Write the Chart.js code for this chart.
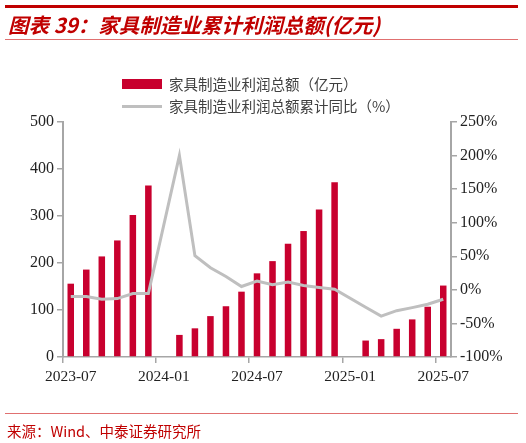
<!DOCTYPE html>
<html>
<head>
<meta charset="utf-8">
<script src="https://cdn.jsdelivr.net/npm/chart.js@4.4.1/dist/chart.umd.min.js"></script>
<style>
  html, body { margin: 0; padding: 0; background: #fff; }
  body { width: 526px; height: 443px; position: relative; overflow: hidden; font-family: "Noto Sans CJK SC", sans-serif; }
  #topline { position: absolute; left: 5px; top: 5px; width: 513px; height: 3px; background: #C00000; }
  #title { position: absolute; left: 8px; top: 10px; font-size: 20.5px; line-height: 28px; color: #C00000; font-style: italic; font-weight: bold; white-space: nowrap; }
  #titleline { position: absolute; left: 5px; top: 39px; width: 513px; height: 1px; background: #E07070; }
  #legend { position: absolute; left: 122px; top: 73px; font-size: 14.5px; color: #404040; }
  .item { position: relative; height: 22px; line-height: 22px; padding-left: 47px; white-space: nowrap; }
  .swatch-bar { position: absolute; left: 0; top: 6px; width: 40px; height: 10px; background: #C8002E; }
  .swatch-line { position: absolute; left: 0; top: 10px; width: 40px; height: 3px; background: #BFBFBF; }
  #footline { position: absolute; left: 5px; top: 413px; width: 513px; height: 1px; background: #E07070; }
  #source { position: absolute; left: 7px; top: 421px; font-size: 14.5px; line-height: 20px; color: #C00000; white-space: nowrap; }
  #wrap { position: absolute; left: 0; top: 0; width: 526px; height: 443px; }
</style>
</head>
<body>
<div id="wrap"><canvas id="c"></canvas></div>
<div id="topline"></div>
<div id="title">图表 39：家具制造业累计利润总额(亿元)</div>
<div id="titleline"></div>
<div id="legend">
  <div class="item"><span class="swatch-bar"></span>家具制造业利润总额（亿元）</div>
  <div class="item"><span class="swatch-line"></span>家具制造业利润总额累计同比（%）</div>
</div>
<div id="footline"></div>
<div id="source">来源：Wind、中泰证券研究所</div>
<script>
const months = [
  '2023-07','2023-08','2023-09','2023-10','2023-11','2023-12',
  '2024-01','2024-02','2024-03','2024-04','2024-05','2024-06',
  '2024-07','2024-08','2024-09','2024-10','2024-11','2024-12',
  '2025-01','2025-02','2025-03','2025-04','2025-05','2025-06','2025-07'
];
const profitTotal = [
  156, 186, 214, 248, 302, 365,
  null, 47, 61, 87, 108, 139,
  178, 204, 241, 268, 314, 372,
  null, 35, 38, 60, 80, 107, 152
];
const profitYoY = [
  -10, -10, -14, -13, -5.5, -5.5,
  null, 200, 51, 33, 20, 5,
  13, 7.5, 11.5, 6.5, 3.5, 1,
  null, -26, -39, -31, -26.5, -21.5, -14
];
const leftTicks = [0, 100, 200, 300, 400, 500];
const rightTicks = [-100, -50, 0, 50, 100, 150, 200, 250];

const axisColor = '#A6A6A6';
const serif = '"Liberation Serif", "Times New Roman", serif';
const tickColor = '#222222';

new Chart(document.getElementById('c'), {
  data: {
    labels: months,
    datasets: [
      {
        type: 'line',
        label: '家具制造业利润总额累计同比（%）',
        data: profitYoY,
        yAxisID: 'y1',
        borderColor: '#BFBFBF',
        backgroundColor: '#BFBFBF',
        borderWidth: 3,
        pointRadius: 0,
        tension: 0,
        spanGaps: true,
        order: 0
      },
      {
        type: 'bar',
        label: '家具制造业利润总额（亿元）',
        data: profitTotal,
        yAxisID: 'y',
        backgroundColor: '#C8002E',
        barPercentage: 0.42,
        categoryPercentage: 1,
        order: 1
      }
    ]
  },
  options: {
    responsive: true,
    maintainAspectRatio: false,
    animation: false,
    layout: { padding: { left: 0, right: 0, top: 122, bottom: 56 } },
    plugins: { legend: { display: false }, tooltip: { enabled: false } },
    scales: {
      x: {
        type: 'category',
        offset: true,
        grid: {
          offset: true,
          drawOnChartArea: false,
          tickLength: 6,
          lineWidth: 1.5,
          color: (ctx) => (ctx.index % 6 === 0 && ctx.index < months.length) ? axisColor : 'rgba(0,0,0,0)'
        },
        border: { color: axisColor, width: 1.5 },
        ticks: {
          autoSkip: false,
          maxRotation: 0,
          minRotation: 0,
          padding: 5,
          font: { family: serif, size: 15.5 },
          color: tickColor,
          callback: (v, i) => (i % 6 === 0 ? months[i] : '')
        },
        afterFit: (s) => { s.height = 30; }
      },
      y: {
        position: 'left',
        min: 0,
        max: 500,
        afterBuildTicks: (s) => { s.ticks = leftTicks.map(v => ({ value: v })); },
        grid: { drawOnChartArea: false, tickLength: 6, lineWidth: 1.5, color: axisColor },
        border: { color: axisColor, width: 2 },
        ticks: { font: { family: serif, size: 16 }, color: tickColor, padding: 3 },
        afterFit: (s) => { s.width = 63; }
      },
      y1: {
        position: 'right',
        min: -100,
        max: 250,
        afterBuildTicks: (s) => { s.ticks = rightTicks.map(v => ({ value: v })); },
        grid: { drawOnChartArea: false, tickLength: 6, lineWidth: 1.5, color: axisColor },
        border: { color: axisColor, width: 2 },
        ticks: { font: { family: serif, size: 16 }, color: tickColor, padding: 3, callback: (v) => v + '%' },
        afterFit: (s) => { s.width = 75; }
      }
    }
  }
});
</script>
</body>
</html>
